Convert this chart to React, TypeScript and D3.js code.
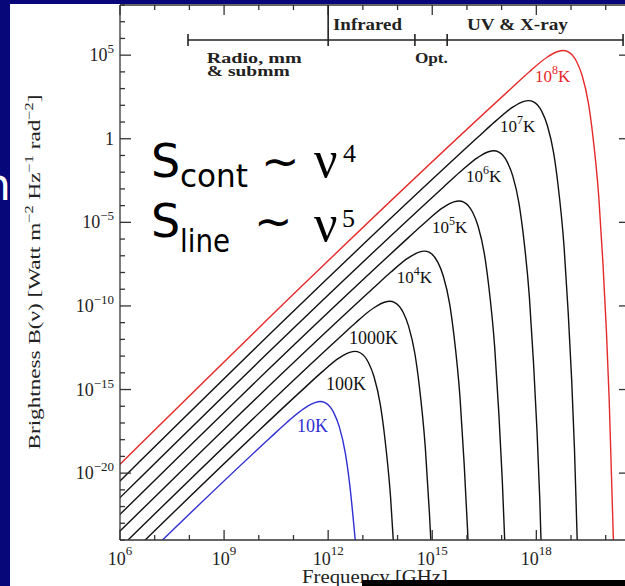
import * as d3 from "d3";

// tick exponents on the two axes
const xTickExps = [6, 9, 12, 15, 18];
const yTickExps = [-20, -15, -10, -5, 0, 5];

// each curve: [log10 frequency, log10 brightness]
const c10K = [[5, -28.51], [10.32, -17.9], [10.8, -16.99], [11.32, -16.11], [11.62, -15.78], [11.77, -15.72], [11.92, -15.8], [12.16, -16.38], [12.32, -17.22], [12.5, -18.86], [12.62, -20.66], [12.8, -24.47]];
const c100K = [[5, -27.51], [11.32, -14.9], [11.8, -13.99], [12.32, -13.11], [12.62, -12.78], [12.77, -12.72], [12.92, -12.8], [13.16, -13.38], [13.32, -14.22], [13.5, -15.86], [13.62, -17.66], [13.8, -21.47], [13.92, -25.44]];
const c1000K = [[5, -26.51], [12.32, -11.9], [12.8, -10.99], [13.32, -10.11], [13.62, -9.78], [13.77, -9.72], [13.92, -9.8], [14.16, -10.38], [14.32, -11.22], [14.5, -12.86], [14.62, -14.66], [14.8, -18.47], [14.92, -22.44], [15.02, -26.49]];
const c1e4K = [[5, -25.51], [13.32, -8.9], [13.8, -7.99], [14.32, -7.11], [14.62, -6.78], [14.77, -6.72], [14.92, -6.8], [15.16, -7.38], [15.32, -8.22], [15.5, -9.86], [15.62, -11.66], [15.8, -15.47], [15.92, -19.44], [16.02, -23.49], [16.1, -27.6]];
const c1e5K = [[5, -24.51], [14.32, -5.9], [14.8, -4.99], [15.32, -4.11], [15.62, -3.78], [15.77, -3.72], [15.92, -3.8], [16.16, -4.38], [16.32, -5.22], [16.5, -6.86], [16.62, -8.66], [16.8, -12.47], [16.92, -16.44], [17.02, -20.49], [17.1, -24.6]];
const c1e6K = [[5, -23.51], [15.32, -2.9], [15.8, -1.99], [16.32, -1.11], [16.62, -0.78], [16.77, -0.72], [16.92, -0.8], [17.16, -1.38], [17.32, -2.22], [17.5, -3.86], [17.62, -5.66], [17.8, -9.47], [17.92, -13.44], [18.02, -17.49], [18.1, -21.6], [18.16, -25.74]];
const c1e7K = [[5, -22.51], [16.32, 0.1], [16.8, 1.01], [17.32, 1.89], [17.62, 2.22], [17.77, 2.28], [17.92, 2.2], [18.16, 1.62], [18.32, 0.78], [18.5, -0.86], [18.62, -2.66], [18.8, -6.47], [18.92, -10.44], [19.02, -14.49], [19.1, -18.6], [19.16, -22.74], [19.22, -26.91]];
const c1e8K = [[5, -21.51], [17.32, 3.1], [17.8, 4.01], [18.32, 4.89], [18.62, 5.22], [18.77, 5.28], [18.92, 5.2], [19.16, 4.62], [19.32, 3.78], [19.5, 2.14], [19.62, 0.34], [19.8, -3.47], [19.92, -7.44], [20.02, -11.49], [20.1, -15.6], [20.16, -19.74], [20.22, -23.91], [20.27, -28.1]];

// curve label text (base, superscript) and anchor in log10 data units
const labelBase = ["10K", "100K", "1000K", "10", "10", "10", "10", "10"];
const labelSup = ["", "", "", "4", "5", "6", "7", "8"];
const labelNu = [11.1, 11.94, 12.6, 13.98, 14.99, 15.97, 16.95, 17.96];
const labelB = [-17.54, -15.03, -12.28, -8.63, -5.64, -2.59, 0.4, 3.39];

// spectral band edges (log10 frequency)
const bandEdges = [7.96, 12, 14.5, 15.43, 20.5];

const RED = "#e52a2a", BLUE = "#2f2fd2", NAVY = "#07077a";
const SERIF = "'Liberation Serif', 'Times New Roman', serif";
const SANS = "'DejaVu Sans', Verdana, sans-serif";

export default function App() {
  const W = 625, H = 586;
  const L = 120, R = 630, T = 5, B = 540;
  const x = d3.scaleLog().domain([1e6, 10 ** 20.7]).range([L, R]);
  const y = d3.scaleLog().domain([1e-24, 1e8]).range([B, T]);
  const X = (e: number) => x(10 ** e), Y = (e: number) => y(10 ** e);
  const line = d3.line<number[]>().x(d => X(d[0])).y(d => Y(d[1])).curve(d3.curveMonotoneX);
  const curves = [c10K, c100K, c1000K, c1e4K, c1e5K, c1e6K, c1e7K, c1e8K];
  const colorOf = (i: number) => (i === 0 ? BLUE : i === 7 ? RED : "#111");
  const xDec = d3.range(6, 21), yDec = d3.range(-24, 9);
  const ax = { stroke: "#333", strokeWidth: 1.3 };
  const bandY = 40;

  return (
    <svg width={W} height={H} style={{ position: "fixed", left: 0, top: 0, display: "block" }}>
      <defs>
        <clipPath id="plot"><rect x={L} y={T} width={R - L} height={B - T} /></clipPath>
      </defs>
      <rect width={W} height={H} fill={NAVY} />
      <text x={-17} y={200} fontFamily={SANS} fontSize={44} fill="#fff">n</text>
      <rect x={10} y={4} width={W - 10} height={H - 4} fill="#fff" />

      {/* curves */}
      <g clipPath="url(#plot)" fill="none" strokeWidth={1.4}>
        {curves.map((c, i) => <path key={i} d={line(c) || ""} stroke={colorOf(i)} />)}
      </g>

      {/* frame */}
      <line x1={L} x2={L} y1={T} y2={B} {...ax} />
      <line x1={L} x2={R} y1={B} y2={B} {...ax} />
      <line x1={L} x2={R} y1={T} y2={T} {...ax} />
      <line x1={R} x2={R} y1={T} y2={B} {...ax} />
      {xDec.map(e => {
        const len = e % 3 === 0 ? 10 : 5;
        return <g key={e}>
          <line x1={X(e)} x2={X(e)} y1={B} y2={B - len} {...ax} />
          <line x1={X(e)} x2={X(e)} y1={T} y2={T + len} {...ax} />
        </g>;
      })}
      {yDec.map(e => {
        const len = e % 5 === 0 ? 11 : 5;
        return <g key={e}>
          <line x1={L} x2={L + len} y1={Y(e)} y2={Y(e)} {...ax} />
          <line x1={R} x2={R - len} y1={Y(e)} y2={Y(e)} {...ax} />
        </g>;
      })}

      {/* tick labels */}
      {xTickExps.map(e => (
        <text key={e} x={X(e)} y={565} textAnchor="middle" fontFamily={SERIF} fontSize={18} fill="#222">
          10<tspan dy={-10} fontSize={13}>{e}</tspan>
        </text>
      ))}
      {yTickExps.map(e => (
        <text key={e} x={114} y={Y(e) + 6} textAnchor="end" fontFamily={SERIF} fontSize={18} fill="#222">
          {e === 0 ? "1" : <>10<tspan dy={-8} fontSize={13}>{e < 0 ? "\u2212" + -e : e}</tspan></>}
        </text>
      ))}

      {/* axis titles */}
      <text x={375} y={583} textAnchor="middle" fontFamily={SERIF} fontSize={18} fill="#222" textLength={146} lengthAdjust="spacingAndGlyphs">Frequency [GHz]</text>
      <text transform="translate(40 272) rotate(-90)" textAnchor="middle" fontFamily={SERIF} fontSize={17} fill="#222" textLength={355} lengthAdjust="spacingAndGlyphs">
        Brightness B(ν) [Watt m<tspan dy={-7} fontSize={12}>−2</tspan><tspan dy={7}> Hz</tspan><tspan dy={-7} fontSize={12}>−1</tspan><tspan dy={7}> rad</tspan><tspan dy={-7} fontSize={12}>−2</tspan><tspan dy={7}>]</tspan>
      </text>

      {/* spectral bands */}
      <line x1={X(bandEdges[0])} x2={X(bandEdges[4])} y1={bandY} y2={bandY} stroke="#222" strokeWidth={1.6} />
      {bandEdges.map((e, i) => (
        <line key={i} x1={X(e)} x2={X(e)} y1={i === 1 ? T : bandY - 6} y2={bandY + 6} stroke="#222" strokeWidth={1.6} />
      ))}
      <g fontFamily={SERIF} fontWeight="bold" fontSize={15} fill="#222">
        <text x={X(12.14)} y={30} fontSize={16} textLength={69} lengthAdjust="spacingAndGlyphs">Infrared</text>
        <text x={X(16.0)} y={30} fontSize={16} textLength={101} lengthAdjust="spacingAndGlyphs">UV &amp; X-ray</text>
        <text x={X(8.5)} y={63} textLength={95} lengthAdjust="spacingAndGlyphs">Radio, mm</text>
        <text x={X(8.5)} y={76} textLength={83} lengthAdjust="spacingAndGlyphs">&amp; submm</text>
        <text x={X(14.5)} y={63} textLength={33} lengthAdjust="spacingAndGlyphs">Opt.</text>
      </g>

      {/* curve labels */}
      {labelBase.map((t, i) => (
        <text key={i} x={X(labelNu[i])} y={Y(labelB[i])} fontFamily={SERIF} fontSize={labelSup[i] ? 17 : 18} fill={colorOf(i)}>
          {labelSup[i] ? <>{t}<tspan dy={-8} fontSize={12}>{labelSup[i]}</tspan><tspan dy={8}>K</tspan></> : t}
        </text>
      ))}

      {/* power-law annotations */}
      <g fill="#000">
        <text x={151} y={177} fontFamily={SANS} fontSize={46}>S</text>
        <text x={180} y={187} fontFamily={SANS} fontSize={32} textLength={68} lengthAdjust="spacingAndGlyphs">cont</text>
        <text x={261} y={177} fontFamily={SANS} fontSize={46}>~</text>
        <text x={314} y={177} fontFamily={SERIF} fontSize={52}>ν</text>
        <text x={343} y={162} fontFamily={SERIF} fontSize={26}>4</text>
        <text x={151} y={237} fontFamily={SANS} fontSize={46}>S</text>
        <text x={180} y={252} fontFamily={SANS} fontSize={32} textLength={50} lengthAdjust="spacingAndGlyphs">line</text>
        <text x={254} y={237} fontFamily={SANS} fontSize={46}>~</text>
        <text x={314} y={241} fontFamily={SERIF} fontSize={52}>ν</text>
        <text x={342} y={227} fontFamily={SERIF} fontSize={26}>5</text>
      </g>

      <rect x={362} y={580} width={W - 362} height={6} fill="#000" />
    </svg>
  );
}
